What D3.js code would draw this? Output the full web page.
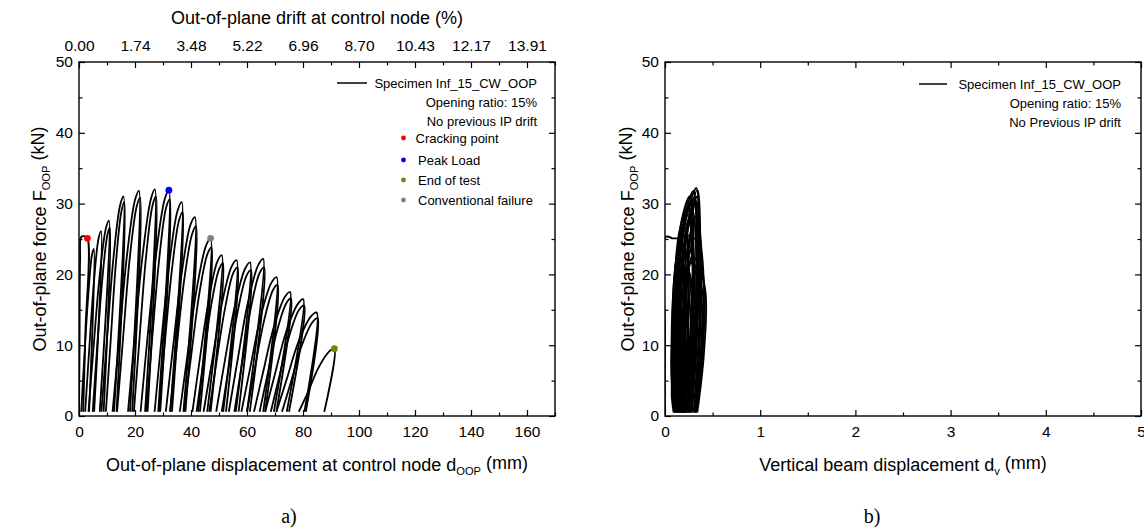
<!DOCTYPE html>
<html>
<head>
<meta charset="utf-8">
<script src="https://cdn.jsdelivr.net/npm/d3@7"></script>
<style>
  body { margin: 0; background: #fff; }
  svg { display: block; font-family: "Liberation Sans", Arial, sans-serif; }
</style>
</head>
<body>
<svg id="chart" width="1144" height="532"></svg>
<script>
// ---- data ----
const forceTicks = [0, 10, 20, 30, 40, 50];
const forceMinor = [5, 15, 25, 35, 45];
const dispTicks = [0, 20, 40, 60, 80, 100, 120, 140, 160];
const dispMinor = [10, 30, 50, 70, 90, 110, 130, 150, 170];
const driftLabels = ["0.00", "1.74", "3.48", "5.22", "6.96", "8.70", "10.43", "12.17", "13.91"];
const dvTicks = [0, 1, 2, 3, 4, 5];
const dvMinor = [0.5, 1.5, 2.5, 3.5, 4.5];

// out-of-plane force (kN) vs control node displacement (mm), one array per cycle
const oopCycles = [
  [[0,0],[0.2,10],[0.4,22],[0.8,25.3],[1.8,25.4],[3.0,25.1],[2.3,12],[1.5,0.6]],
  [[0.8,0.6],[1.9,8.3],[3.3,17.0],[4.6,22.7],[5.3,23.6],[3.6,0.6]],
  [[2.2,0.6],[3.6,9.1],[5.3,18.8],[7.0,25.1],[7.9,26.1],[5.4,0.6]],
  [[3.4,0.6],[5.2,9.7],[7.4,19.9],[9.6,26.5],[10.7,27.6],[7.4,0.6]],
  [[4.9,0.6],[6.4,9.3],[8.3,19.2],[10.1,25.5],[11.0,26.6],[8.8,0.6]],
  [[8.0,0.6],[10.0,10.9],[12.3,22.3],[14.7,29.8],[15.9,31.0],[12.5,0.6]],
  [[9.6,0.6],[11.3,10.6],[13.2,21.7],[15.2,29.0],[16.2,30.2],[13.4,0.6]],
  [[12.0,0.6],[14.4,11.1],[17.2,22.9],[20.0,30.5],[21.4,31.8],[18.2,0.6]],
  [[13.6,0.6],[15.7,10.8],[18.1,22.2],[20.6,29.6],[21.8,30.8],[19.0,0.6]],
  [[17.5,0.6],[19.9,11.2],[22.8,23.0],[25.7,30.7],[27.1,32.0],[23.6,0.6]],
  [[19.6,0.6],[21.6,10.9],[23.9,22.3],[26.3,29.8],[27.5,31.0],[24.5,0.6]],
  [[22.0,0.6],[24.5,11.2],[27.6,23.0],[30.6,30.6],[32.1,31.9],[28.3,0.6]],
  [[24.0,0.6],[26.1,10.7],[28.6,22.0],[31.1,29.4],[32.4,30.6],[29.0,0.6]],
  [[27.0,0.6],[29.4,10.6],[32.3,21.7],[35.2,29.0],[36.7,30.2],[32.6,0.6]],
  [[28.5,0.6],[30.6,10.1],[33.2,20.7],[35.7,27.6],[37.0,28.8],[33.2,0.6]],
  [[31.0,0.6],[33.6,9.8],[36.7,20.2],[39.8,27.0],[41.4,28.1],[37.3,0.6]],
  [[32.5,0.6],[34.8,9.4],[37.6,19.3],[40.4,25.7],[41.8,26.8],[38.0,0.6]],
  [[36.0,0.6],[38.8,8.8],[42.1,18.1],[45.4,24.1],[47.0,25.1],[42.6,0.6]],
  [[37.5,0.6],[40.0,8.3],[42.9,17.1],[45.8,22.8],[47.3,23.8],[43.2,0.6]],
  [[40.5,0.6],[43.1,7.9],[46.3,16.3],[49.4,21.8],[51.0,22.7],[45.8,0.6]],
  [[42.0,0.6],[44.4,7.6],[47.2,15.6],[50.0,20.7],[51.4,21.6],[47.0,0.6]],
  [[44.5,0.6],[47.5,7.7],[51.0,15.8],[54.5,21.1],[56.3,22.0],[51.5,0.6]],
  [[46.5,0.6],[49.0,7.4],[52.1,15.1],[55.1,20.2],[56.6,21.0],[52.5,0.6]],
  [[49.0,0.6],[52.0,7.6],[55.7,15.6],[59.3,20.8],[61.1,21.7],[56.0,0.6]],
  [[51.0,0.6],[53.6,7.2],[56.7,14.8],[59.8,19.8],[61.4,20.6],[57.0,0.6]],
  [[53.5,0.6],[56.6,7.8],[60.3,16.0],[64.0,21.3],[65.8,22.2],[60.0,0.6]],
  [[55.5,0.6],[58.2,7.4],[61.3,15.1],[64.5,20.2],[66.1,21.0],[61.0,0.6]],
  [[58.0,0.6],[61.2,6.9],[64.9,14.1],[68.7,18.8],[70.6,19.6],[65.8,0.6]],
  [[60.0,0.6],[62.7,6.5],[66.0,13.3],[69.3,17.8],[70.9,18.5],[66.5,0.6]],
  [[62.5,0.6],[65.7,6.1],[69.6,12.6],[73.5,16.8],[75.4,17.5],[69.6,0.6]],
  [[64.5,0.6],[67.3,5.8],[70.7,12.0],[74.0,15.9],[75.7,16.6],[70.5,0.6]],
  [[66.5,0.6],[69.9,5.8],[74.0,11.9],[78.1,15.8],[80.1,16.5],[74.2,0.6]],
  [[68.5,0.6],[71.5,5.5],[75.0,11.2],[78.6,15.0],[80.4,15.6],[75.0,0.6]],
  [[70.5,0.6],[74.1,5.1],[78.4,10.5],[82.7,14.0],[84.9,14.6],[80.5,0.6]],
  [[72.5,0.6],[75.7,4.8],[79.5,9.9],[83.3,13.2],[85.2,13.8],[81.0,0.6]],
  [[78.5,0.6],[81.7,3.3],[85.5,6.8],[89.3,9.1],[91.2,9.5],[87.6,0.6]]
];

const markerNames = ["Cracking point", "Peak Load", "End of test", "Conventional failure"];
const markerDisp = [3.0, 32.1, 91.2, 47.0];
const markerForce = [25.1, 31.9, 9.5, 25.1];

// out-of-plane force (kN) vs vertical beam displacement (mm)
const dvCycles = [
  [[0.0,0],[0.0,12],[0.01,25.3],[0.08,25.1],[0.16,24.9],[0.14,12],[0.12,0.5]],
  [[0.10,0.5],[0.07,8],[0.08,16],[0.12,22],[0.17,23.6],[0.20,18],[0.19,8],[0.16,0.5]],
  [[0.12,0.5],[0.08,9],[0.09,18],[0.14,24],[0.19,26.1],[0.22,20],[0.21,9],[0.18,0.5]],
  [[0.13,0.5],[0.09,9],[0.10,19],[0.15,25],[0.21,27.6],[0.24,21],[0.23,10],[0.19,0.5]],
  [[0.14,0.5],[0.10,9],[0.11,18],[0.16,24],[0.22,26.6],[0.25,20],[0.24,10],[0.20,0.5]],
  [[0.15,0.5],[0.10,10],[0.12,21],[0.18,28],[0.26,31.0],[0.29,24],[0.27,12],[0.22,0.5]],
  [[0.16,0.5],[0.11,10],[0.13,20],[0.19,27],[0.27,30.2],[0.30,23],[0.28,11],[0.23,0.5]],
  [[0.17,0.5],[0.12,10],[0.14,21],[0.21,28.5],[0.30,31.8],[0.33,25],[0.31,12],[0.25,0.5]],
  [[0.18,0.5],[0.12,10],[0.15,21],[0.22,28],[0.31,30.8],[0.34,24],[0.32,12],[0.26,0.5]],
  [[0.19,0.5],[0.13,11],[0.16,22],[0.24,29],[0.33,32.2],[0.35,25],[0.33,12],[0.27,0.5]],
  [[0.20,0.5],[0.14,10],[0.17,21],[0.25,28],[0.34,31.0],[0.36,24],[0.34,12],[0.28,0.5]],
  [[0.21,0.5],[0.15,10],[0.18,21],[0.26,28.5],[0.34,31.9],[0.37,25],[0.36,13],[0.30,0.5]],
  [[0.22,0.5],[0.16,10],[0.19,21],[0.26,27.5],[0.33,30.2],[0.38,23],[0.37,12],[0.31,0.5]],
  [[0.22,0.5],[0.17,9],[0.20,20],[0.27,26],[0.32,28.1],[0.40,21],[0.39,11],[0.32,0.5]],
  [[0.21,0.5],[0.18,9],[0.21,18],[0.26,23],[0.31,25.1],[0.41,19],[0.40,10],[0.33,0.5]],
  [[0.20,0.5],[0.18,8],[0.21,16],[0.25,21],[0.29,22.7],[0.42,18],[0.41,9],[0.34,0.5]],
  [[0.19,0.5],[0.17,8],[0.20,16],[0.24,20],[0.28,22.0],[0.40,17],[0.39,8],[0.33,0.5]],
  [[0.18,0.5],[0.16,8],[0.19,15],[0.23,20],[0.27,21.7],[0.38,17],[0.37,8],[0.31,0.5]],
  [[0.14,0.5],[0.09,7],[0.10,14],[0.16,19],[0.24,20.6],[0.30,15],[0.29,7],[0.24,0.5]],
  [[0.13,0.5],[0.08,7],[0.09,14],[0.15,20],[0.22,22.2],[0.28,16],[0.27,7],[0.22,0.5]],
  [[0.12,0.5],[0.08,6],[0.09,13],[0.14,18],[0.21,19.6],[0.27,14],[0.26,6],[0.21,0.5]],
  [[0.11,0.5],[0.07,6],[0.08,12],[0.13,16],[0.19,17.5],[0.25,12],[0.24,6],[0.19,0.5]],
  [[0.10,0.5],[0.07,5],[0.08,11],[0.12,15],[0.18,16.5],[0.24,11],[0.23,5],[0.18,0.5]],
  [[0.10,0.5],[0.07,5],[0.08,10],[0.12,13],[0.17,14.6],[0.22,10],[0.21,5],[0.17,0.5]],
  [[0.09,0.5],[0.07,3],[0.08,6],[0.11,8.5],[0.15,9.5],[0.19,7],[0.18,3],[0.15,0.5]],
  [[0.16,0.5],[0.09,9],[0.10,19],[0.15,26],[0.24,29.5],[0.29,22],[0.28,10],[0.24,0.5]],
  [[0.17,0.5],[0.11,9],[0.12,19],[0.17,25],[0.25,28.5],[0.31,21],[0.30,10],[0.26,0.5]],
  [[0.19,0.5],[0.14,8],[0.16,18],[0.22,25],[0.29,29.0],[0.33,22],[0.33,10],[0.28,0.5]],
  [[0.21,0.5],[0.19,8],[0.22,18],[0.27,26],[0.32,30.5],[0.36,22],[0.36,10],[0.32,0.5]],
  [[0.11,0.5],[0.08,8],[0.09,15],[0.12,20],[0.16,22.5],[0.21,17],[0.20,8],[0.16,0.5]],
  [[0.15,0.5],[0.12,8],[0.14,16],[0.19,23],[0.25,25.5],[0.30,19],[0.29,8],[0.25,0.5]]
];

// ---- layout ----
const markerColors = ["#ff0000", "#0000ff", "#808000", "#808080"];
const boxA = { left: 79, right: 555, top: 62, bottom: 416 };
const boxB = { left: 665, right: 1141, top: 62, bottom: 416 };
const tickFont = 15.5, titleFont = 18, legendFont = 13;

const svg = d3.select("#chart");
const defs = svg.append("defs");
[["clipA", boxA], ["clipB", boxB]].forEach(([id, b]) => {
  defs.append("clipPath").attr("id", id).append("rect")
    .attr("x", b.left).attr("y", b.top)
    .attr("width", b.right - b.left).attr("height", b.bottom - b.top);
});

function styleAxis(g, withLabels) {
  g.select(".domain").remove();
  g.selectAll(".tick line").attr("stroke", "#000").attr("stroke-width", 1.2);
  g.selectAll(".tick text")
    .attr("fill", "#000")
    .attr("font-size", tickFont)
    .attr("font-family", "Liberation Sans, Arial, sans-serif");
  if (!withLabels) g.selectAll(".tick text").remove();
}

function frame(box, x, y, xMajor, xMinor, xFmt, topLabels) {
  const g = svg.append("g");
  // bottom
  g.append("g").attr("transform", `translate(0,${box.bottom})`)
    .call(d3.axisBottom(x).tickValues(xMajor).tickSize(-6).tickPadding(10).tickFormat(xFmt))
    .call(a => styleAxis(a, true));
  g.append("g").attr("transform", `translate(0,${box.bottom})`)
    .call(d3.axisBottom(x).tickValues(xMinor).tickSize(-3.5).tickFormat(""))
    .call(a => styleAxis(a, false));
  // top
  g.append("g").attr("transform", `translate(0,${box.top})`)
    .call(d3.axisTop(x).tickValues(xMajor).tickSize(-6).tickPadding(11)
      .tickFormat((d, i) => topLabels ? topLabels[i] : ""))
    .call(a => styleAxis(a, !!topLabels));
  g.append("g").attr("transform", `translate(0,${box.top})`)
    .call(d3.axisTop(x).tickValues(xMinor).tickSize(-3.5).tickFormat(""))
    .call(a => styleAxis(a, false));
  // left
  g.append("g").attr("transform", `translate(${box.left},0)`)
    .call(d3.axisLeft(y).tickValues(forceTicks).tickSize(-6).tickPadding(6).tickFormat(d3.format("d")))
    .call(a => styleAxis(a, true));
  g.append("g").attr("transform", `translate(${box.left},0)`)
    .call(d3.axisLeft(y).tickValues(forceMinor).tickSize(-3.5).tickFormat(""))
    .call(a => styleAxis(a, false));
  // right
  g.append("g").attr("transform", `translate(${box.right},0)`)
    .call(d3.axisRight(y).tickValues(forceTicks).tickSize(-6).tickFormat(""))
    .call(a => styleAxis(a, false));
  g.append("g").attr("transform", `translate(${box.right},0)`)
    .call(d3.axisRight(y).tickValues(forceMinor).tickSize(-3.5).tickFormat(""))
    .call(a => styleAxis(a, false));
  g.append("rect")
    .attr("x", box.left).attr("y", box.top)
    .attr("width", box.right - box.left).attr("height", box.bottom - box.top)
    .attr("fill", "none").attr("stroke", "#000").attr("stroke-width", 1.4);
}

function subText(sel, parts) {
  // parts: [text, sub, text]
  sel.append("tspan").text(parts[0]);
  sel.append("tspan").attr("font-size", "0.62em").attr("dy", "0.35em").text(parts[1]);
  sel.append("tspan").attr("dy", "-0.35em").text(parts[2]);
}

// ---- panel a ----
const xA = d3.scaleLinear().domain([0, 170]).range([boxA.left, boxA.right]);
const yA = d3.scaleLinear().domain([0, 50]).range([boxA.bottom, boxA.top]);

const lineA = d3.line().x(d => xA(d[0])).y(d => yA(d[1])).curve(d3.curveCatmullRom.alpha(0.5));
svg.append("g").attr("clip-path", "url(#clipA)")
  .selectAll("path").data(oopCycles).join("path")
  .attr("d", lineA).attr("fill", "none").attr("stroke", "#000")
  .attr("stroke-width", 1.8).attr("stroke-linejoin", "round");

frame(boxA, xA, yA, dispTicks, dispMinor, d3.format("d"), driftLabels);

svg.append("g").selectAll("circle").data(markerNames).join("circle")
  .attr("cx", (d, i) => xA(markerDisp[i])).attr("cy", (d, i) => yA(markerForce[i]))
  .attr("r", 3.4).attr("fill", (d, i) => markerColors[i]);

svg.append("text").attr("x", (boxA.left + boxA.right) / 2).attr("y", 24)
  .attr("text-anchor", "middle").attr("font-size", titleFont)
  .text("Out-of-plane drift at control node (%)");
svg.append("text").attr("x", (boxA.left + boxA.right) / 2).attr("y", 471)
  .attr("text-anchor", "middle").attr("font-size", titleFont)
  .call(subText, ["Out-of-plane displacement at control node d", "OOP", " (mm)"]);
svg.append("text").attr("transform", `translate(46,${(boxA.top + boxA.bottom) / 2}) rotate(-90)`)
  .attr("text-anchor", "middle").attr("font-size", titleFont)
  .call(subText, ["Out-of-plane force F", "OOP", " (kN)"]);

// legend a
const legA = svg.append("g").attr("font-size", legendFont);
legA.append("line").attr("x1", 337).attr("x2", 367).attr("y1", 83).attr("y2", 83)
  .attr("stroke", "#000").attr("stroke-width", 1.5);
legA.append("text").attr("x", 537).attr("y", 83).attr("dy", "0.35em").attr("text-anchor", "end")
  .text("Specimen Inf_15_CW_OOP");
legA.append("text").attr("x", 537).attr("y", 102.5).attr("dy", "0.35em").attr("text-anchor", "end")
  .text("Opening ratio: 15%");
legA.append("text").attr("x", 537).attr("y", 121).attr("dy", "0.35em").attr("text-anchor", "end")
  .text("No previous IP drift");
const legRows = [138, 160, 180, 200];
markerNames.forEach((name, i) => {
  legA.append("circle").attr("cx", 403.5).attr("cy", legRows[i]).attr("r", 2.4).attr("fill", markerColors[i]);
  legA.append("text").attr("x", i === 0 ? 415.5 : 418).attr("y", legRows[i]).attr("dy", "0.35em").text(name);
});

svg.append("text").attr("x", 289).attr("y", 523).attr("text-anchor", "middle")
  .attr("font-family", "Liberation Serif, Times New Roman, serif").attr("font-size", 20).text("a)");

// ---- panel b ----
const xB = d3.scaleLinear().domain([0, 5]).range([boxB.left, boxB.right]);
const yB = d3.scaleLinear().domain([0, 50]).range([boxB.bottom, boxB.top]);

const lineB = d3.line().x(d => xB(d[0])).y(d => yB(d[1])).curve(d3.curveCatmullRom.alpha(0.5));
svg.append("g").attr("clip-path", "url(#clipB)")
  .selectAll("path").data(dvCycles).join("path")
  .attr("d", lineB).attr("fill", "none").attr("stroke", "#000")
  .attr("stroke-width", 1.8).attr("stroke-linejoin", "round");

frame(boxB, xB, yB, dvTicks, dvMinor, d3.format("d"), null);

svg.append("text").attr("x", (boxB.left + boxB.right) / 2).attr("y", 471)
  .attr("text-anchor", "middle").attr("font-size", titleFont)
  .call(subText, ["Vertical beam displacement d", "v", " (mm)"]);
svg.append("text").attr("transform", `translate(634,${(boxB.top + boxB.bottom) / 2}) rotate(-90)`)
  .attr("text-anchor", "middle").attr("font-size", titleFont)
  .call(subText, ["Out-of-plane force F", "OOP", " (kN)"]);

const legB = svg.append("g").attr("font-size", legendFont);
legB.append("line").attr("x1", 919).attr("x2", 947).attr("y1", 84).attr("y2", 84)
  .attr("stroke", "#000").attr("stroke-width", 1.5);
legB.append("text").attr("x", 1121).attr("y", 84).attr("dy", "0.35em").attr("text-anchor", "end")
  .text("Specimen Inf_15_CW_OOP");
legB.append("text").attr("x", 1121).attr("y", 103.5).attr("dy", "0.35em").attr("text-anchor", "end")
  .text("Opening ratio: 15%");
legB.append("text").attr("x", 1121).attr("y", 122.5).attr("dy", "0.35em").attr("text-anchor", "end")
  .text("No Previous IP drift");

svg.append("text").attr("x", 872).attr("y", 523).attr("text-anchor", "middle")
  .attr("font-family", "Liberation Serif, Times New Roman, serif").attr("font-size", 20).text("b)");
</script>
</body>
</html>
